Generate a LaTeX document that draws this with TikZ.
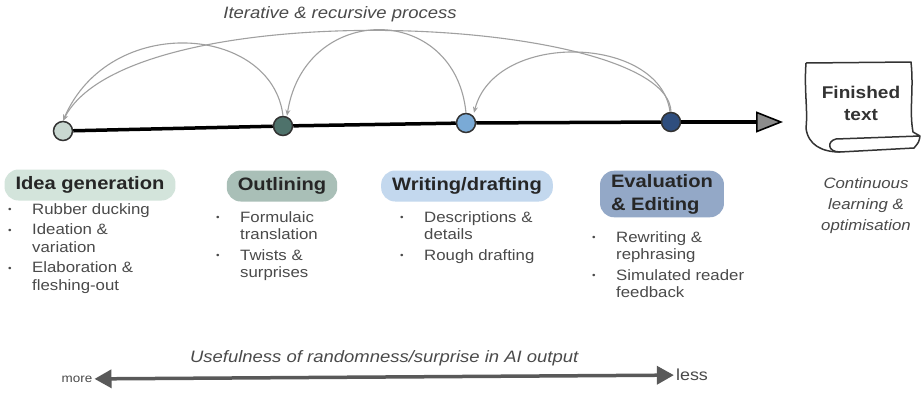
\documentclass[tikz,border=0pt]{standalone}
\usepackage{fontspec}
\setmainfont[FakeStretch=1.12]{Liberation Sans}
\usetikzlibrary{arrows.meta}

\definecolor{ideac}{HTML}{C9D8D1}
\definecolor{outlc}{HTML}{4E726B}
\definecolor{writc}{HTML}{7AAAD6}
\definecolor{evalc}{HTML}{2F4E7E}
\definecolor{ideabg}{HTML}{D3E4DB}
\definecolor{outlbg}{HTML}{A9BFB7}
\definecolor{writbg}{HTML}{C3D8EE}
\definecolor{evalbg}{HTML}{93A8C7}
\definecolor{testo}{HTML}{4A4A4A}
\definecolor{arco}{HTML}{A0A0A0}

\tikzset{
  tappa/.style={circle, draw=black!80, line width=1.5pt, fill=#1, minimum size=19pt, inner sep=0pt},
  fase/.style={fill=#1, rounded corners=14pt, inner xsep=11pt, minimum height=31pt, text=black!85, align=left,
    font=\fontsize{18}{23}\selectfont\bfseries},
  elenco/.style={anchor=north west, inner sep=0pt, align=left, text=testo, font=\fontsize{15}{17.5}\selectfont},
  nota/.style={text=testo, align=center, font=\fontsize{15}{21}\selectfont\itshape},
  asse/.style={line width=3.5pt, black},
  ritorno/.style={arco, line width=1.1pt, -{Stealth[length=6pt,width=5pt]}},
  scala/.style={line width=3.5pt, black!65, {Triangle[length=17pt,width=18pt]}-{Triangle[length=17pt,width=18pt]}},
}
\newcommand{\pto}{\makebox[24pt][l]{\raisebox{1.5pt}{\fontsize{9}{9}\selectfont\textbullet}}}
\newcommand{\rientro}{\hspace*{24pt}}

\begin{document}
\begin{tikzpicture}[x=1pt, y=-1pt]
        % Sfondo e dimensioni
        \fill[white] (0,0) rectangle (922,416);
        \useasboundingbox (0,0) rectangle (922,416);

        % Titolo in alto
        \node[nota, font=\fontsize{16.5}{20}\selectfont\itshape] (titolo) at (340,14) {Iterative \& recursive process};

        % Tappe sulla linea del tempo
        \node[tappa=ideac] (c1) at (63,131) {};
        \node[tappa=outlc] (c2) at (283,126) {};
        \node[tappa=writc] (c3) at (466,123) {};
        \node[tappa=evalc] (c4) at (671,122) {};
        \coordinate (punta) at (783,122);

        % Disegna la linea del tempo
        \foreach \a/\b in {c1/c2, c2/c3, c3/c4}
            \draw[asse] (\a) -- (\b);
        \draw[asse, -{Triangle[length=27pt, width=21pt, line width=1.6pt, fill=black!45]}] (c4) -- (punta);

        % Archi di ritorno
        \draw[ritorno] (c4.north) .. controls (668,15) and (130,-10) .. (c1.north);
        \draw[ritorno] (c2.north) .. controls (272,25) and (110,12) .. (c1.north);
        \draw[ritorno] (c3.north) .. controls (455,2) and (305,2) .. ([xshift=4pt]c2.north);
        \draw[ritorno] ([xshift=-1pt]c4.north) .. controls (660,35) and (495,30) .. ([xshift=8pt]c3.north);

        % Fasi
        \node[fase=ideabg] (f1) at (90,185) {Idea generation};
        \node[fase=outlbg] (f2) at (282,186) {Outlining};
        \node[fase=writbg] (f3) at (467,186) {Writing/drafting};
        \node[fase=evalbg] (f4) at (662,194) {Evaluation\\\& Editing};

        % Elenchi puntati
        \node[elenco] (l1) at (8,203) {\pto Rubber ducking\\[3pt]
            \pto Ideation \&\\ \rientro variation\\[3pt]
            \pto Elaboration \&\\ \rientro fleshing-out};
        \node[elenco] (l2) at (216,211) {\pto Formulaic\\ \rientro translation\\[3pt]
            \pto Twists \&\\ \rientro surprises};
        \node[elenco] (l3) at (400,211) {\pto Descriptions \&\\ \rientro details\\[3pt]
            \pto Rough drafting};
        \node[elenco] (l4) at (592,231) {\pto Rewriting \&\\ \rientro rephrasing\\[3pt]
            \pto Simulated reader\\ \rientro feedback};

        % Documento finale
        \draw[line width=1.5pt, black!80, line join=round]
            (806,63) -- (911,62) .. controls (914,90) and (909,110) .. (913,132)
            .. controls (916,134) .. (920,136) .. controls (919,142) .. (914,148) -- (840,152)
            .. controls (827,152) and (827,141) .. (836,139) -- (920,136);
        \draw[line width=1.5pt, black!80, line join=round]
            (806,63) .. controls (804,90) and (808,110) .. (806,128)
            .. controls (808,145) and (822,152) .. (840,152);
        \node[font=\fontsize{17}{22}\selectfont\bfseries, text=black!80, align=center] (finito) at (861,103) {Finished\\text};
        \node[nota] (continuo) at (866,206) {Continuous\\learning \&\\optimisation};

        % Scala in basso
        \node[text=testo, font=\fontsize{12}{14}\selectfont, inner sep=2pt] (piu) at (77,379) {more};
        \node[text=testo, font=\fontsize{16}{18}\selectfont, inner sep=2pt] (meno) at (692,375) {less};
        \draw[scala] (piu) -- node[above=6pt, nota, font=\fontsize{16.5}{18}\selectfont\itshape] (utilita) {Usefulness of randomness/surprise in AI output} (meno);
\end{tikzpicture}
\end{document}
